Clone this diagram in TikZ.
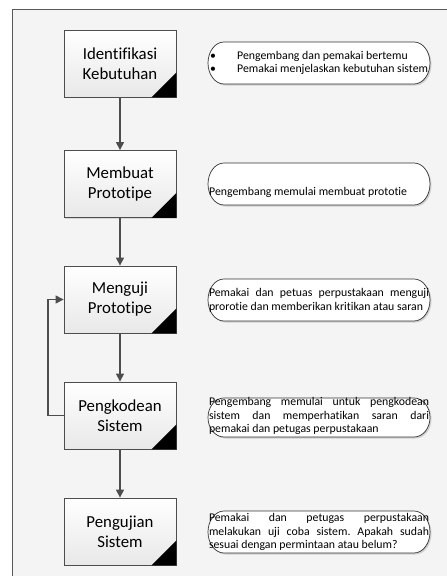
\documentclass[tikz,border=0pt]{standalone}
\usepackage{fontspec}
\setmainfont[Ligatures={NoCommon}]{Carlito}
\usetikzlibrary{arrows.meta,shadows}
\definecolor{framegray}{HTML}{5A5A5A}
\definecolor{linegray}{HTML}{4D4D4D}
\definecolor{bggray}{HTML}{F4F4F4}
\newcommand\bubpath[2]{%
  \draw[bubble] (224,#1) -- (414,#1)
    arc[start angle=-90, end angle=90, x radius=16, y radius={(#2-#1)/2}]
    -- (224,#2)
    arc[start angle=90, end angle=270, x radius=16, y radius={(#2-#1)/2}] -- cycle;}
\begin{document}
\frenchspacing
\begin{tikzpicture}[x=1pt,y=-1pt,
  stepbox/.style={draw=linegray, line width=0.8pt, top color=white, bottom color=black!9,
    minimum width=112pt, minimum height=67pt, inner sep=0pt, align=center,
    font=\fontsize{16.8}{20}\selectfont,
    drop shadow={shadow xshift=1pt, shadow yshift=-1pt, opacity=0.25}},
  bubble/.style={draw=black!80, line width=0.7pt, fill=white,
    drop shadow={shadow xshift=1.5pt, shadow yshift=-1.5pt, opacity=0.3}},
  bubtext/.style={inner sep=0pt, font=\fontsize{11.8}{13.8}\selectfont},
  arr/.style={draw=linegray, line width=1.2pt, -{Triangle[length=8pt,width=8pt]}}]
\useasboundingbox (0,0) rectangle (447,576);
\fill[white] (0,0) rectangle (447,576);
\begin{scope}
\clip (0,0) rectangle (447,576);
\draw[draw=framegray, line width=0.9pt, fill=bggray] (12,9) rectangle (460,590);
\end{scope}

% boxes
\node[stepbox] (b1) at (120,63.5) {Identifikasi\\Kebutuhan};
\node[stepbox] (b2) at (120,184) {Membuat\\Prototipe};
\node[stepbox] (b3) at (120,299.5) {Menguji\\Prototipe};
\node[stepbox] (b4) at (120,415.5) {Pengkodean\\Sistem};
\node[stepbox] (b5) at (120,531.5) {Pengujian\\Sistem};
\foreach \b in {b1,b2,b3,b4,b5}
  \fill (\b.south east) -- ++(0,-25) -- ++(-25,25) -- cycle;

% arrows
\draw[arr] (b1) -- (b2);
\draw[arr] (b2) -- (b3);
\draw[arr] (b3) -- (b4);
\draw[arr] (b4) -- (b5);
\coordinate (fb) at (48,0);
\draw[arr] (b4.west) -- (fb |- b4.west) -- (fb |- b3.west) -- (b3.west);

% bubbles
\bubpath{42}{84}
\bubpath{163}{205}
\bubpath{279}{321}
\bubpath{398}{437}
\bubpath{511}{553}

\node[bubtext, anchor=west, align=left] (t1) at (210,63)
  {\makebox[27pt][l]{•}Pengembang dan pemakai bertemu\\
   \makebox[27pt][l]{•}Pemakai menjelaskan kebutuhan sistem};
\node[bubtext, anchor=west] (t2) at (209,192) {Pengembang memulai membuat prototie};
\node[bubtext, text width=220pt, align=justify] (t3) at (319,300)
  {Pemakai dan petuas perpustakaan menguji\linebreak prorotie dan memberikan kritikan atau saran};
\node[bubtext, text width=220pt, align=justify] (t4) at (319,416)
  {Pengembang memulai untuk pengkodean\linebreak sistem dan memperhatikan saran dari\linebreak pemakai dan petugas perpustakaan};
\node[bubtext, text width=220pt, align=justify] (t5) at (319,532)
  {Pemakai dan petugas perpustakaan\linebreak melakukan uji coba sistem. Apakah sudah\linebreak sesuai dengan permintaan atau belum?};
\end{tikzpicture}
\end{document}
